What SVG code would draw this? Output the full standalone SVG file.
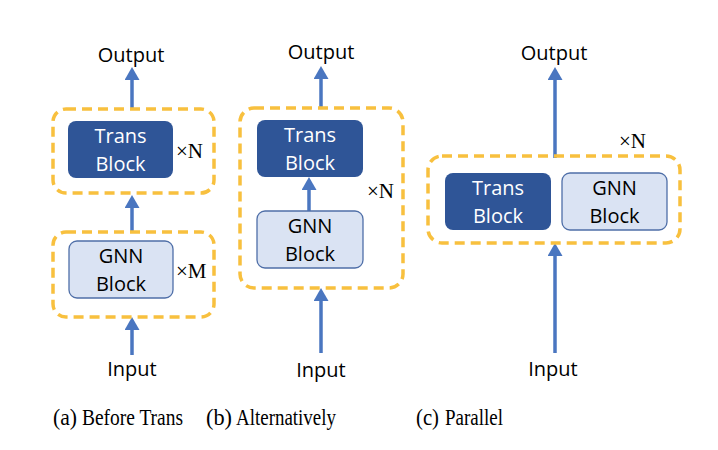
<svg xmlns="http://www.w3.org/2000/svg" width="718" height="450" viewBox="0 0 718 450">
<defs>
<style>
.lbl{font-family:"Open Sans","Noto Sans",sans-serif;font-size:20px;fill:#000;text-anchor:middle}
.wht{fill:#fff}
.rep{font-family:"Liberation Serif","Times New Roman",serif;font-size:21px;fill:#000}
.cap{font-family:"Liberation Serif","Times New Roman",serif;font-size:24px;fill:#000}
.grp{fill:none;stroke:#F8C03E;stroke-width:3.5;stroke-dasharray:10 6}
.trans{fill:#2F5597}
.gnn{fill:#DAE3F3;stroke:#4F6FA8;stroke-width:1.3}
.arr{stroke:#4A76C0;stroke-width:3.5;fill:none;marker-end:url(#ah)}
</style>
<marker id="ah" viewBox="0 0 13 15" refX="1" refY="7.5" markerWidth="13" markerHeight="15" markerUnits="userSpaceOnUse" orient="auto">
<path d="M0,0 L13,7.5 L0,15 Z" fill="#4A76C0"/>
</marker>
</defs>
<rect width="718" height="450" fill="#fff"/>

<g id="connectors">
<line class="arr" x1="132" y1="110" x2="132" y2="79"/>
<line class="arr" x1="132" y1="232" x2="132" y2="207"/>
<line class="arr" x1="132" y1="355" x2="132" y2="329"/>
<line class="arr" x1="321" y1="109" x2="321" y2="78"/>
<line class="arr" x1="309" y1="211" x2="309" y2="189"/>
<line class="arr" x1="321" y1="353" x2="321" y2="300"/>
<line class="arr" x1="555" y1="158" x2="555" y2="79"/>
<line class="arr" x1="555" y1="353" x2="555" y2="255"/>
</g>

<!-- (a) -->
<g id="a-output"><text class="lbl" x="131" y="62">Output</text></g>
<g id="a-trans-group">
<rect class="grp" x="53" y="109" width="161" height="84" rx="13"/>
<text class="rep" x="176" y="158">×N</text>
</g>
<g id="a-trans">
<rect class="trans" x="68" y="121" width="105" height="57" rx="8"/>
<text class="lbl wht" x="120.5" y="143">Trans</text>
<text class="lbl wht" x="120.5" y="171">Block</text>
</g>
<g id="a-gnn-group">
<rect class="grp" x="53" y="232" width="161" height="85" rx="13"/>
<text class="rep" x="176" y="278">×M</text>
</g>
<g id="a-gnn">
<rect class="gnn" x="69" y="241" width="104" height="57" rx="8"/>
<text class="lbl" x="121" y="263">GNN</text>
<text class="lbl" x="121" y="291">Block</text>
</g>
<g id="a-input"><text class="lbl" x="132" y="376">Input</text></g>

<!-- (b) -->
<g id="b-output"><text class="lbl" x="321" y="59">Output</text></g>
<g id="b-group">
<rect class="grp" x="240" y="108" width="163" height="180" rx="14"/>
<text class="rep" x="367" y="198">×N</text>
</g>
<g id="b-trans">
<rect class="trans" x="257" y="120" width="106" height="57" rx="8"/>
<text class="lbl wht" x="310" y="142">Trans</text>
<text class="lbl wht" x="310" y="170">Block</text>
</g>
<g id="b-gnn">
<rect class="gnn" x="257" y="211" width="106" height="57" rx="8"/>
<text class="lbl" x="310" y="233">GNN</text>
<text class="lbl" x="310" y="261">Block</text>
</g>
<g id="b-input"><text class="lbl" x="321" y="377">Input</text></g>

<!-- (c) -->
<g id="c-output"><text class="lbl" x="554" y="60">Output</text></g>
<g id="c-group">
<rect class="grp" x="428" y="156" width="252" height="87" rx="14"/>
<text class="rep" x="619" y="148">×N</text>
</g>
<g id="c-trans">
<rect class="trans" x="445" y="173" width="106" height="57" rx="8"/>
<text class="lbl wht" x="498" y="195">Trans</text>
<text class="lbl wht" x="498" y="223">Block</text>
</g>
<g id="c-gnn">
<rect class="gnn" x="562" y="173" width="105" height="57" rx="8"/>
<text class="lbl" x="614.5" y="195">GNN</text>
<text class="lbl" x="614.5" y="223">Block</text>
</g>
<g id="c-input"><text class="lbl" x="553" y="376">Input</text></g>

<!-- captions -->
<g id="captions">
<text class="cap" x="53" y="425" textLength="24" lengthAdjust="spacingAndGlyphs">(a)</text>
<text class="cap" x="82" y="425" textLength="101" lengthAdjust="spacingAndGlyphs">Before Trans</text>
<text class="cap" x="206" y="425" textLength="26" lengthAdjust="spacingAndGlyphs">(b)</text>
<text class="cap" x="236" y="425" textLength="100" lengthAdjust="spacingAndGlyphs">Alternatively</text>
<text class="cap" x="416" y="425" textLength="23" lengthAdjust="spacingAndGlyphs">(c)</text>
<text class="cap" x="445" y="425" textLength="58" lengthAdjust="spacingAndGlyphs">Parallel</text>
</g>
</svg>
